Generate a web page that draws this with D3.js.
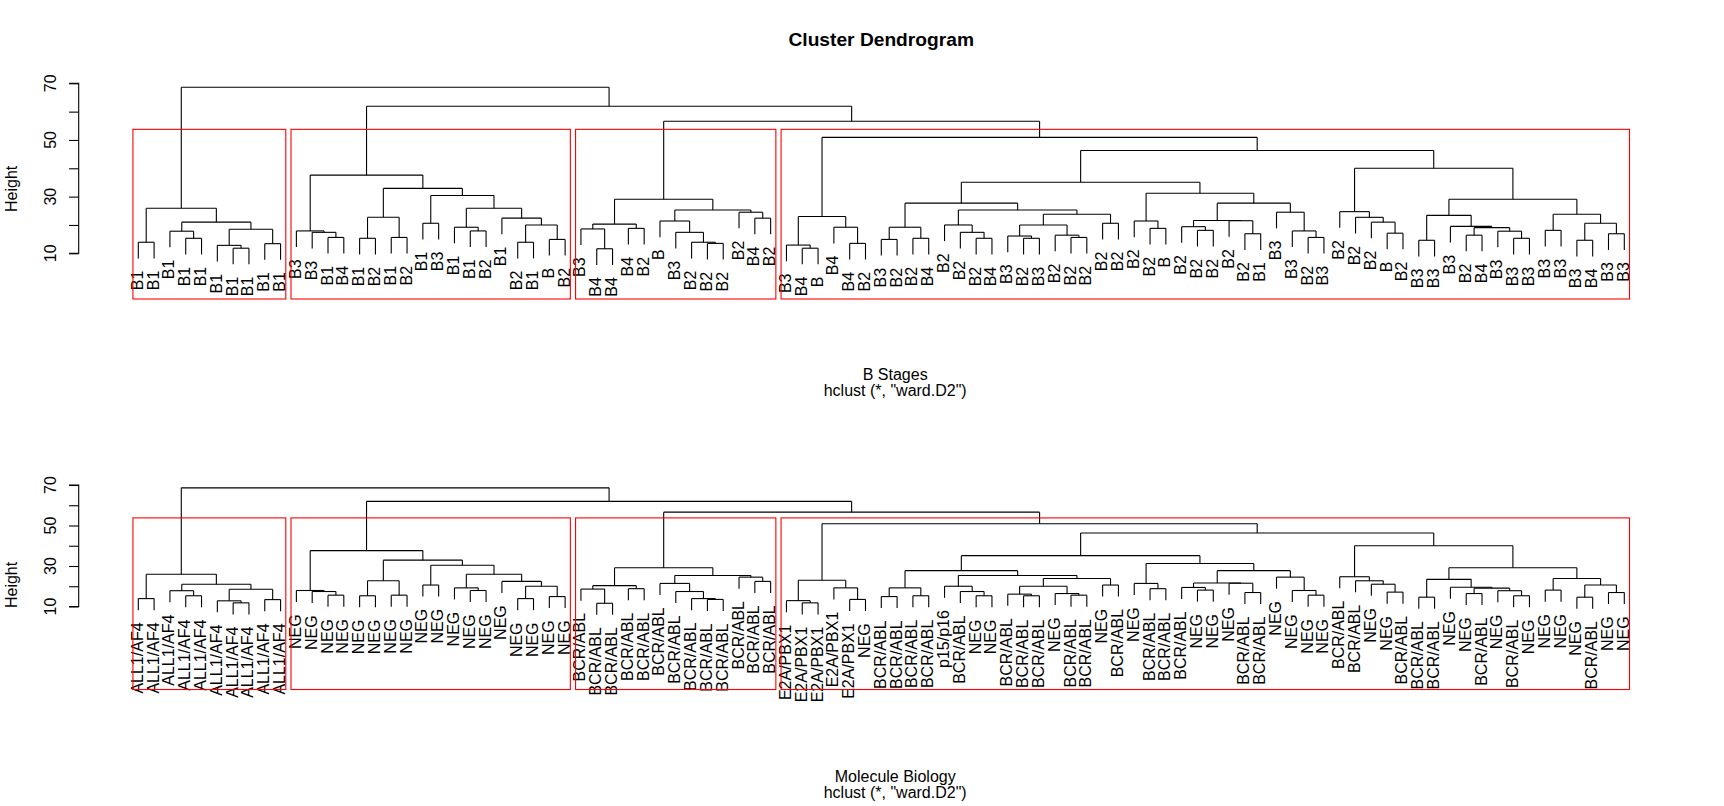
<!DOCTYPE html>
<html><head><meta charset="utf-8">
<script src="https://cdn.jsdelivr.net/npm/d3@7"></script>
<style>
body{margin:0;background:#fff}
svg{display:block}
text{font-family:"Liberation Sans",Arial,Helvetica,sans-serif;fill:#000}
</style>
</head><body>
<svg id="chart" width="1724" height="806"></svg>
<script>
// ---------------- data ----------------
const topLabels = [
 "B1","B1","B1","B1","B1","B1","B1","B1","B1","B1",
 "B3","B3","B1","B4","B1","B2","B1","B2","B1","B3","B1","B1","B2","B1","B2","B1","B","B2",
 "B3","B4","B4","B4","B2","B","B3","B2","B2","B2","B2","B4","B2",
 "B3","B4","B","B4","B4","B2","B3","B2","B2","B4","B2","B2","B2","B4","B3","B2","B3","B2","B2","B2","B2","B2",
 "B2","B2","B","B2","B2","B2","B2","B2","B1","B3","B3","B2","B3",
 "B2","B2","B2","B","B2",
 "B3","B3","B3","B2","B4","B3","B3","B3",
 "B3","B3","B3","B4","B3","B3"
];
const bottomLabels = [
 "ALL1/AF4","ALL1/AF4","ALL1/AF4","ALL1/AF4","ALL1/AF4","ALL1/AF4","ALL1/AF4","ALL1/AF4","ALL1/AF4","ALL1/AF4",
 "NEG","NEG","NEG","NEG","NEG","NEG","NEG","NEG","NEG","NEG","NEG","NEG","NEG","NEG","NEG","NEG","NEG","NEG",
 "BCR/ABL","BCR/ABL","BCR/ABL","BCR/ABL","BCR/ABL","BCR/ABL","BCR/ABL","BCR/ABL","BCR/ABL","BCR/ABL","BCR/ABL","BCR/ABL","BCR/ABL",
 "E2A/PBX1","E2A/PBX1","E2A/PBX1","E2A/PBX1","E2A/PBX1","NEG",
 "BCR/ABL","BCR/ABL","BCR/ABL","BCR/ABL","p15/p16","BCR/ABL","NEG","NEG","BCR/ABL","BCR/ABL","BCR/ABL","NEG","BCR/ABL","BCR/ABL","NEG","BCR/ABL",
 "NEG","BCR/ABL","BCR/ABL","BCR/ABL","NEG","NEG","NEG","BCR/ABL","BCR/ABL","NEG","NEG","NEG","NEG",
 "BCR/ABL","BCR/ABL","NEG","NEG","BCR/ABL",
 "BCR/ABL","BCR/ABL","NEG","NEG","BCR/ABL","NEG","BCR/ABL","NEG",
 "NEG","NEG","NEG","BCR/ABL","NEG","NEG"
];
// merges: [left, right, height]; negative = leaf position (1-based), positive = earlier merge row (1-based)
const merges = [
 [-1,-2,13.9],[-4,-5,15.3],[-3,2,17.8],[-7,-8,11.8],[-6,4,12.8],[-9,-10,13.4],[5,6,18.5],[3,7,21.0],[1,8,25.9],
 [-13,-14,15.6],[-12,10,17.4],[-11,11,17.9],[-15,-16,15.3],[-17,-18,15.6],[13,14,22.7],[-19,-20,20.6],
 [-22,-23,17.9],[-21,17,19.2],[-25,-26,13.9],[-27,-28,14.9],[19,20,20.0],[-24,21,22.4],[18,22,25.9],
 [16,23,30.4],[15,24,32.9],[12,25,37.6],
 [-30,-31,11.6],[-29,27,18.6],[-32,-33,18.8],[28,29,20.3],[-37,-38,13.5],[-36,31,13.9],[-35,32,17.4],
 [-34,33,21.4],[-40,-41,22.4],[-39,35,24.5],[34,36,25.3],[30,37,29.1],
 [-43,-44,11.8],[-42,39,12.9],[-46,-47,13.5],[-45,41,19.2],[40,42,23.0],
 [-48,-49,14.9],[-50,-51,15.3],[44,45,19.2],[-54,-55,15.3],[-53,47,17.4],[-52,48,20.0],[-57,-58,15.3],
 [-56,50,16.1],[-60,-61,15.6],[-59,52,16.4],[51,53,20.0],[-62,-63,20.6],[54,55,23.8],[49,56,25.3],[46,57,27.7],
 [-65,-66,18.8],[-64,59,21.4],[-68,-69,18.1],[-67,61,19.4],[-71,-72,16.9],[-70,63,21.5],[62,64,21.6],
 [-75,-76,15.6],[-74,66,17.9],[-73,67,24.5],[65,68,27.7],[60,69,31.2],[58,70,35.1],
 [-80,-81,17.1],[-79,72,21.0],[-78,73,22.7],[-77,74,24.7],
 [-82,-83,14.6],[-85,-86,16.4],[-88,-89,15.3],[-87,78,17.8],[77,79,19.05],[-84,80,19.5],[76,81,23.4],
 [-90,-91,18.1],[-92,-93,14.6],[-94,-95,16.9],[84,85,20.6],[83,86,23.8],[82,87,29.1],
 [75,88,40.0],[71,89,46.3],[43,90,50.9],[38,91,56.6],[26,92,61.9],[9,93,68.6]
];
const yTicks = [10,20,30,40,50,60,70];
const yTickLabels = ["10","","30","","50","","70"];
const clusterCount = 4;
const chartTitle = "Cluster Dendrogram";
const panelXlabs = ["B Stages","Molecule Biology"];
const subTitle = 'hclust (*, "ward.D2")';
const yTitle = "Height";

// ---------------- layout ----------------
const svg = d3.select("#chart");
const n = topLabels.length;
const heights = merges.map(m => m[2]);
const hang = 0.1 * (d3.max(heights) - d3.min(heights));
const x = d3.scaleLinear().domain([0, n - 1]).range([138.3, 1624.3]);
const plotLeft = 78.7, plotRight = 1683.7;

// node positions (index units) & leaf parent heights
const nodePos = [];
const leafParentH = new Array(n);
const cpos = c => c < 0 ? (-c - 1) : nodePos[c - 1];
merges.forEach((m, i) => {
  nodePos[i] = (cpos(m[0]) + cpos(m[1])) / 2;
  [m[0], m[1]].forEach(c => { if (c < 0) leafParentH[-c - 1] = m[2]; });
});
function leafRange(c) {
  if (c < 0) return [-c - 1, -c - 1];
  const a = leafRange(merges[c - 1][0]), b = leafRange(merges[c - 1][1]);
  return [Math.min(a[0], b[0]), Math.max(a[1], b[1])];
}
// clusters from cutting at k
const order = d3.range(merges.length).sort((a, b) => heights[b] - heights[a]);
const topSet = new Set(order.slice(0, clusterCount - 1).map(i => i + 1));
const clusterRoots = [];
topSet.forEach(id => merges[id - 1].slice(0, 2).forEach(c => { if (!topSet.has(c)) clusterRoots.push(c); }));
const sortedH = order.map(i => heights[i]);
const cutH = (sortedH[clusterCount - 2] + sortedH[clusterCount - 1]) / 2;

const panels = [
  {labels: topLabels, y: d3.scaleLinear().domain([10, 70]).range([253.3, 83.3]), bottom: 299,
   xlab: panelXlabs[0], xlabY: 380, subY: 396, title: true},
  {labels: bottomLabels, y: d3.scaleLinear().domain([10, 70]).range([606.5, 485]), bottom: 689.5,
   xlab: panelXlabs[1], xlabY: 781.5, subY: 797.5, title: false}
];

panels.forEach(p => {
  const g = svg.append("g");
  const y = p.y;
  // tree segments
  const segs = [];
  merges.forEach((m, i) => {
    const h = m[2];
    segs.push([x(cpos(m[0])), y(h), x(cpos(m[1])), y(h)]);
    [m[0], m[1]].forEach(c => {
      const hc = c < 0 ? h - hang : merges[c - 1][2];
      segs.push([x(cpos(c)), y(h), x(cpos(c)), y(hc)]);
    });
  });
  g.append("g").selectAll("line").data(segs).join("line")
    .attr("x1", d => d[0]).attr("y1", d => d[1]).attr("x2", d => d[2]).attr("y2", d => d[3])
    .attr("stroke", "#000").attr("stroke-width", 1.1);
  // leaf labels
  g.append("g").selectAll("text").data(p.labels).join("text")
    .attr("transform", (d, i) => `translate(${x(i) + 4.5},${y(leafParentH[i] - hang) + 12.3}) rotate(-90)`)
    .attr("text-anchor", "end").attr("font-size", 16).text(d => d);
  // cluster rectangles
  clusterRoots.forEach(c => {
    const r = leafRange(c);
    const x0 = x(r[0] - 0.34), x1 = x(r[1] + 0.33);
    g.append("rect").attr("x", x0).attr("y", y(cutH)).attr("width", x1 - x0).attr("height", p.bottom - y(cutH))
      .attr("fill", "none").attr("stroke", "#ff0000").attr("stroke-width", 1.1);
  });
  // y axis
  const ax = g.append("g").attr("transform", `translate(${plotLeft},0)`)
    .call(d3.axisLeft(y).tickValues(yTicks).tickSize(9.6).tickFormat(""));
  ax.select(".domain").attr("d", `M-9.6,${y(10)}H0V${y(70)}H-9.6`).attr("stroke", "#000").attr("stroke-width", 1.1);
  ax.selectAll(".tick line").attr("stroke", "#000").attr("stroke-width", 1.1);
  yTicks.forEach((t, i) => {
    if (!yTickLabels[i]) return;
    g.append("text").attr("transform", `translate(56,${y(t)}) rotate(-90)`)
      .attr("text-anchor", "middle").attr("font-size", 16).text(yTickLabels[i]);
  });
  g.append("text").attr("transform", `translate(17,${(y(70) - 4.6 + p.bottom) / 2}) rotate(-90)`)
    .attr("text-anchor", "middle").attr("font-size", 16).text(yTitle);
  const cx = (plotLeft + plotRight) / 2;
  const cxLab = cx + 14;
  g.append("text").attr("x", cxLab).attr("y", p.xlabY).attr("text-anchor", "middle").attr("font-size", 16).text(p.xlab);
  g.append("text").attr("x", cxLab).attr("y", p.subY).attr("text-anchor", "middle").attr("font-size", 16).text(subTitle);
  if (p.title) {
    g.append("text").attr("x", cx).attr("y", 46).attr("text-anchor", "middle")
      .attr("font-size", 19.2).attr("font-weight", "bold").text(chartTitle);
  }
});
</script>
</body></html>
